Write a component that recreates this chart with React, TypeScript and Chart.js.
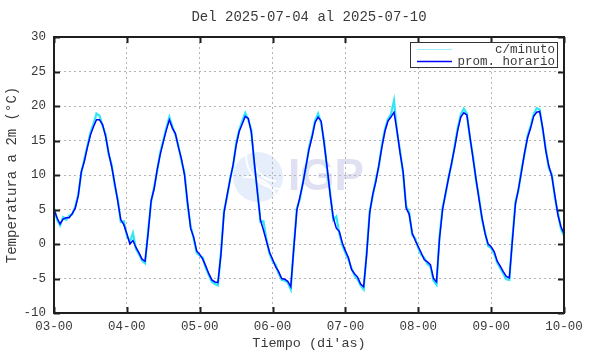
import { useEffect, useRef } from "react";
import { Chart, registerables } from "chart.js";

Chart.register(...registerables);

const TITLE = "Del 2025-07-04 al 2025-07-10";
const Y_TITLE = "Temperatura a 2m (°C)";
const X_TITLE = "Tiempo (di'as)";
const LEGEND_LABELS = ["c/minuto", "prom. horario"];
const START_DAY = 3;
const END_DAY = 10;
const xTickLabels = ["03-00", "04-00", "05-00", "06-00", "07-00", "08-00", "09-00", "10-00"];
const Y_MIN = -10;
const Y_MAX = 30;
const Y_STEP = 5;

// hourly average temperature (°C), from 03-00 to 10-00
const hourlyAvg = [
  // day 03
  5.0, 3.8, 2.9, 3.6, 3.8, 3.8, 4.4, 5.2, 7.0, 10.5, 12.0, 14.0, 15.8, 17.0, 18.0, 18.0, 17.3, 15.6, 13.2, 11.2, 8.8, 6.2, 3.5, 2.8,
  // day 04
  1.5, 0.0, 0.5, -0.5, -1.3, -2.2, -2.5, 1.5, 6.3, 8.0, 10.8, 13.0, 14.8, 16.5, 18.0, 16.8, 16.0, 14.0, 12.3, 10.0, 6.0, 2.3, 1.0, -1.0,
  // day 05
  -1.5, -2.2, -3.2, -4.3, -5.2, -5.5, -5.6, -1.5, 4.5, 7.0, 9.3, 11.5, 14.3, 16.3, 17.4, 18.5, 18.2, 16.2, 11.8, 7.5, 3.5, 2.0, 0.4, -1.2,
  // day 06
  -2.2, -3.3, -4.0, -5.0, -5.1, -5.4, -6.2, -0.6, 4.9, 6.8, 8.8, 11.3, 13.7, 15.5, 17.6, 18.4, 17.8, 14.5, 11.0, 7.0, 3.8, 2.3, 1.8, 0.1,
  // day 07
  -1.0, -2.0, -3.7, -4.3, -4.8, -5.8, -6.2, -1.5, 4.5, 7.2, 9.0, 11.4, 14.0, 16.3, 17.8, 18.4, 19.1, 16.4, 13.2, 10.5, 5.2, 4.3, 1.6, 0.5,
  // day 08
  -0.4, -1.3, -2.3, -2.6, -3.0, -5.0, -5.5, 0.8, 5.0, 7.4, 9.6, 11.8, 14.0, 16.5, 18.4, 19.0, 18.7, 15.6, 12.5, 9.5, 6.5, 3.8, 1.5, 0.0,
  // day 09
  -0.4, -1.1, -2.5, -3.2, -4.0, -4.7, -4.9, 0.5, 5.8, 8.0, 10.5, 13.2, 15.4, 16.8, 18.5, 19.1, 19.2, 16.8, 13.5, 11.3, 9.8, 7.0, 4.2, 2.5,
  // 10-00
  1.5,
];

// per-minute readings (sampled), showing the spikes seen around the hourly curve
const perMinute = [
  // day 03
  5.2, 3.5, 2.7, 3.9, 3.5, 4.1, 4.3, 5.4, 7.2, 10.3, 12.3, 14.2, 16.1, 17.4, 18.9, 18.6, 17.1, 15.9, 13.0, 11.5, 8.5, 6.5, 3.2, 3.3,
  // day 04
  1.2, 0.3, 1.6, -0.7, -1.5, -2.4, -2.8, 1.9, 6.1, 8.3, 10.6, 13.3, 15.0, 16.8, 18.4, 17.0, 15.8, 14.2, 12.0, 10.3, 5.7, 2.6, 0.8, -1.3,
  // day 05
  -1.7, -2.0, -3.5, -4.5, -5.5, -5.8, -6.0, -1.2, 4.8, 6.8, 9.5, 11.3, 14.6, 16.5, 17.8, 19.0, 18.0, 16.5, 11.5, 7.8, 3.2, 3.3, 0.6, -1.4,
  // day 06
  -2.5, -3.0, -4.3, -5.2, -5.3, -5.6, -6.6, -0.3, 5.2, 6.5, 9.0, 11.1, 14.0, 15.7, 17.9, 18.9, 17.5, 14.8, 10.7, 7.3, 3.5, 4.0, 1.5, -0.2,
  // day 07
  -1.3, -2.3, -3.5, -4.6, -5.1, -6.0, -6.6, -1.2, 4.8, 7.0, 9.3, 11.2, 14.3, 16.6, 18.1, 18.8, 20.8, 16.2, 13.5, 10.2, 5.5, 4.6, 1.3, 0.8,
  // day 08
  -0.6, -1.6, -2.0, -2.9, -3.3, -5.3, -5.9, 1.1, 5.3, 7.2, 9.8, 11.6, 14.3, 16.8, 18.8, 19.6, 18.9, 15.4, 12.8, 9.2, 6.8, 3.5, 1.7, -0.3,
  // day 09
  -0.6, -1.4, -2.7, -3.5, -4.3, -5.1, -5.2, 0.8, 6.1, 7.8, 10.8, 13.0, 15.7, 17.1, 18.8, 19.7, 19.5, 16.5, 13.8, 11.0, 10.1, 6.7, 4.5, 2.2,
  // 10-00
  1.2,
];

const FONT = "'Liberation Mono', 'DejaVu Sans Mono', monospace";
const TEXT_COLOR = "#3a3a3a";
const CYAN = "#2ee8f8";
const BLUE = "#0000ff";

function toPoints(values: number[]) {
  return values.map((v, i) => ({ x: START_DAY + i / 24, y: v }));
}

const framePlugin = {
  id: "gnuplotFrame",
  beforeDraw(chart: any) {
    const { ctx } = chart;
    const { left, right, top, bottom } = chart.chartArea;
    const cx = left + (right - left) * 0.4;
    const cy = (top + bottom) / 2 + 2;
    ctx.save();
    // watermark logo
    ctx.fillStyle = "#e6eefb";
    ctx.beginPath();
    ctx.arc(cx, cy, 25, 0, Math.PI * 2);
    ctx.fill();
    ctx.strokeStyle = "#ffffff";
    ctx.lineWidth = 2;
    ctx.beginPath();
    ctx.arc(cx + 18, cy - 18, 22, Math.PI * 0.5, Math.PI * 1.0);
    ctx.stroke();
    ctx.beginPath();
    ctx.arc(cx + 22, cy - 22, 34, Math.PI * 0.5, Math.PI * 1.0);
    ctx.stroke();
    ctx.beginPath();
    ctx.arc(cx - 10, cy + 30, 30, Math.PI * 1.45, Math.PI * 1.95);
    ctx.stroke();
    ctx.fillStyle = "#e0e0f3";
    ctx.font = "bold 44px 'Liberation Sans', Arial, sans-serif";
    ctx.textBaseline = "middle";
    ctx.textAlign = "left";
    ctx.fillText("IGP", cx + 30, cy + 1);
    ctx.restore();
  },
  afterDraw(chart: any) {
    const { ctx } = chart;
    const { left, right, top, bottom } = chart.chartArea;
    const xs = chart.scales.x;
    const ys = chart.scales.y;
    ctx.save();
    ctx.strokeStyle = "#1e1e1e";
    ctx.lineWidth = 2;
    ctx.setLineDash([]);
    // inward tick marks
    xs.ticks.forEach((t: any) => {
      const px = Math.round(xs.getPixelForValue(t.value)) + 0.5;
      ctx.beginPath();
      ctx.moveTo(px, bottom);
      ctx.lineTo(px, bottom - 6);
      ctx.moveTo(px, top);
      ctx.lineTo(px, top + 6);
      ctx.stroke();
    });
    ys.ticks.forEach((t: any) => {
      const py = Math.round(ys.getPixelForValue(t.value)) + 0.5;
      ctx.beginPath();
      ctx.moveTo(left, py);
      ctx.lineTo(left + 6, py);
      ctx.moveTo(right, py);
      ctx.lineTo(right - 6, py);
      ctx.stroke();
    });
    ctx.strokeRect(left, top, right - left, bottom - top);

    // legend box (top right, inside plot)
    const boxRight = right - 7;
    const boxLeft = right - 154;
    const boxTop = top + 5;
    const boxBottom = top + 30;
    ctx.fillStyle = "#ffffff";
    ctx.fillRect(boxLeft, boxTop, boxRight - boxLeft, boxBottom - boxTop);
    ctx.lineWidth = 1;
    ctx.strokeStyle = "#333333";
    ctx.strokeRect(boxLeft + 0.5, boxTop + 0.5, boxRight - boxLeft, boxBottom - boxTop);
    const colors = ["#9ff0fa", BLUE];
    const widths = [1.2, 1.5];
    ctx.font = "12.5px " + FONT;
    ctx.textAlign = "right";
    ctx.textBaseline = "middle";
    LEGEND_LABELS.forEach((label, i) => {
      const ly = boxTop + 7 + i * 12;
      ctx.strokeStyle = colors[i];
      ctx.lineWidth = widths[i];
      ctx.beginPath();
      ctx.moveTo(boxLeft + 7, ly + 0.5);
      ctx.lineTo(boxLeft + 42, ly + 0.5);
      ctx.stroke();
      ctx.fillStyle = TEXT_COLOR;
      ctx.fillText(label, boxRight - 2, ly + 1);
    });
    ctx.restore();
  },
};

export default function App() {
  const canvasRef = useRef<HTMLCanvasElement | null>(null);

  useEffect(() => {
    const canvas = canvasRef.current;
    if (!canvas) return;
    const chart = new Chart(canvas, {
      type: "line",
      data: {
        datasets: [
          {
            label: LEGEND_LABELS[0],
            data: toPoints(perMinute),
            borderColor: CYAN,
            borderWidth: 2.2,
            pointRadius: 0,
            tension: 0,
            order: 2,
          },
          {
            label: LEGEND_LABELS[1],
            data: toPoints(hourlyAvg),
            borderColor: BLUE,
            borderWidth: 1.5,
            pointRadius: 0,
            tension: 0,
            order: 1,
          },
        ],
      },
      options: {
        animation: false,
        responsive: false,
        devicePixelRatio: 1,
        layout: { padding: { left: 0, right: 26, top: 0, bottom: 0 } },
        plugins: {
          legend: { display: false },
          tooltip: { enabled: false },
          title: {
            display: true,
            text: TITLE,
            fullSize: false,
            color: TEXT_COLOR,
            font: { family: FONT, size: 14, weight: "normal" },
            padding: { top: 9, bottom: 11.2 },
          },
        },
        scales: {
          x: {
            type: "linear",
            min: START_DAY,
            max: END_DAY,
            afterFit(scale: any) {
              scale.height = 41;
            },
            ticks: {
              stepSize: 1,
              autoSkip: false,
              maxRotation: 0,
              padding: 6,
              color: TEXT_COLOR,
              font: { family: FONT, size: 12.5 },
              callback: (v: any) => xTickLabels[Math.round(Number(v) - START_DAY)] ?? "",
            },
            grid: {
              color: "#b4b4b4",
              lineWidth: 1,
              drawTicks: false,
            },
            border: { display: false, dash: [2, 3] },
            title: {
              display: true,
              text: X_TITLE,
              color: TEXT_COLOR,
              font: { family: FONT, size: 13.5 },
              padding: { top: 0, bottom: 2 },
            },
          },
          y: {
            min: Y_MIN,
            max: Y_MAX,
            afterFit(scale: any) {
              scale.width = 54;
            },
            ticks: {
              stepSize: Y_STEP,
              padding: 8,
              color: TEXT_COLOR,
              font: { family: FONT, size: 12.5 },
            },
            grid: {
              color: "#b4b4b4",
              lineWidth: 1,
              drawTicks: false,
            },
            border: { display: false, dash: [2, 3] },
            title: {
              display: true,
              text: Y_TITLE,
              color: TEXT_COLOR,
              font: { family: FONT, size: 14 },
              padding: { top: 4, bottom: 0 },
            },
          },
        },
      },
      plugins: [framePlugin],
    } as any);
    return () => chart.destroy();
  }, []);

  return (
    <div style={{ position: "fixed", left: 0, top: 0, width: 590, height: 354, background: "#fff" }}>
      <canvas ref={canvasRef} width={590} height={354} style={{ display: "block" }} />
    </div>
  );
}
